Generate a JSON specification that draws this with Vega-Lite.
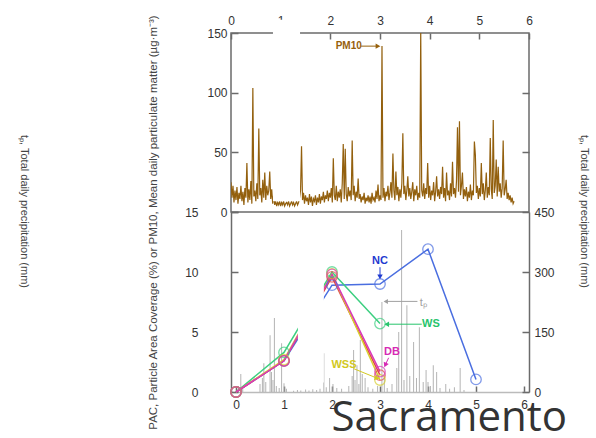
{
  "$schema": "https://vega.github.io/schema/vega-lite/v6.json",
  "background": "white",
  "padding": {"left": 17, "top": 13, "right": 5, "bottom": 5},
  "spacing": 0,
  "bounds": "flush",
  "config": {
    "view": {"stroke": null},
    "axis": {"labelFont": "Liberation Sans", "labelFontSize": 12, "labelColor": "#333333", "titleFont": "Liberation Sans", "titleFontSize": 11, "titleFontWeight": "normal", "titleColor": "#444444", "domainColor": "#6b6b6b", "domainWidth": 1.5, "tickColor": "#6b6b6b", "tickWidth": 1.5, "grid": false, "labelFlush": false, "labelOverlap": false},
    "text": {"font": "Liberation Sans"}
  },
  "title": {"text": "Sacramento", "orient": "bottom", "anchor": "end", "frame": "group", "font": "Open Sans", "fontSize": 42, "fontWeight": "normal", "color": "#333333", "offset": -31, "dx": 38},
  "datasets": {
    "pm": [
      {"t":0.00,"v":25},{"t":0.02,"v":12},{"t":0.04,"v":22},{"t":0.06,"v":8},{"t":0.08,"v":18},{"t":0.10,"v":10},{"t":0.12,"v":21},{"t":0.14,"v":7},{"t":0.16,"v":16},{"t":0.18,"v":11},
      {"t":0.20,"v":22},{"t":0.22,"v":9},{"t":0.24,"v":17},{"t":0.26,"v":6},{"t":0.28,"v":20},{"t":0.30,"v":12},{"t":0.32,"v":41},{"t":0.34,"v":8},{"t":0.36,"v":19},{"t":0.38,"v":10},
      {"t":0.40,"v":26},{"t":0.42,"v":7},{"t":0.44,"v":104},{"t":0.46,"v":13},{"t":0.48,"v":18},{"t":0.50,"v":9},{"t":0.52,"v":24},{"t":0.54,"v":11},{"t":0.56,"v":70},{"t":0.58,"v":14},
      {"t":0.60,"v":20},{"t":0.62,"v":8},{"t":0.64,"v":27},{"t":0.66,"v":12},{"t":0.68,"v":33},{"t":0.70,"v":10},{"t":0.72,"v":22},{"t":0.74,"v":14},{"t":0.76,"v":18},{"t":0.78,"v":34},
      {"t":0.80,"v":11},{"t":0.82,"v":19},{"t":0.84,"v":7},{"t":0.86,"v":15},{"t":0.88,"v":6},{"t":0.90,"v":9},{"t":0.92,"v":5},{"t":0.94,"v":8},{"t":0.96,"v":6},{"t":0.98,"v":9},
      {"t":1.00,"v":5},{"t":1.02,"v":8},{"t":1.04,"v":6},{"t":1.06,"v":9},{"t":1.08,"v":5},{"t":1.10,"v":7},{"t":1.12,"v":8},{"t":1.14,"v":6},{"t":1.16,"v":9},{"t":1.18,"v":5},
      {"t":1.20,"v":7},{"t":1.22,"v":9},{"t":1.24,"v":6},{"t":1.26,"v":8},{"t":1.28,"v":5},{"t":1.30,"v":7},{"t":1.32,"v":9},{"t":1.34,"v":6},{"t":1.36,"v":8},{"t":1.38,"v":12},
      {"t":1.40,"v":18},{"t":1.42,"v":55},{"t":1.44,"v":10},{"t":1.46,"v":16},{"t":1.48,"v":7},{"t":1.50,"v":14},{"t":1.52,"v":9},{"t":1.54,"v":12},{"t":1.56,"v":6},{"t":1.58,"v":15},
      {"t":1.60,"v":8},{"t":1.62,"v":13},{"t":1.64,"v":5},{"t":1.66,"v":11},{"t":1.68,"v":9},{"t":1.70,"v":14},{"t":1.72,"v":6},{"t":1.74,"v":12},{"t":1.76,"v":8},{"t":1.78,"v":15},
      {"t":1.80,"v":7},{"t":1.82,"v":13},{"t":1.84,"v":10},{"t":1.86,"v":17},{"t":1.88,"v":8},{"t":1.90,"v":14},{"t":1.92,"v":11},{"t":1.94,"v":18},{"t":1.96,"v":9},{"t":1.98,"v":16},
      {"t":2.00,"v":12},{"t":2.02,"v":20},{"t":2.04,"v":8},{"t":2.06,"v":45},{"t":2.08,"v":14},{"t":2.10,"v":10},{"t":2.12,"v":22},{"t":2.14,"v":9},{"t":2.16,"v":17},{"t":2.18,"v":12},
      {"t":2.20,"v":19},{"t":2.22,"v":8},{"t":2.24,"v":24},{"t":2.26,"v":57},{"t":2.28,"v":11},{"t":2.30,"v":53},{"t":2.32,"v":15},{"t":2.34,"v":9},{"t":2.36,"v":21},{"t":2.38,"v":13},
      {"t":2.40,"v":18},{"t":2.42,"v":10},{"t":2.44,"v":60},{"t":2.46,"v":14},{"t":2.48,"v":22},{"t":2.50,"v":9},{"t":2.52,"v":17},{"t":2.54,"v":12},{"t":2.56,"v":28},{"t":2.58,"v":11},
      {"t":2.60,"v":15},{"t":2.62,"v":8},{"t":2.64,"v":13},{"t":2.66,"v":10},{"t":2.68,"v":16},{"t":2.70,"v":7},{"t":2.72,"v":12},{"t":2.74,"v":9},{"t":2.76,"v":14},{"t":2.78,"v":8},
      {"t":2.80,"v":13},{"t":2.82,"v":7},{"t":2.84,"v":16},{"t":2.86,"v":10},{"t":2.88,"v":12},{"t":2.90,"v":8},{"t":2.92,"v":18},{"t":2.94,"v":11},{"t":2.96,"v":23},{"t":2.98,"v":9},
      {"t":3.00,"v":14},{"t":3.02,"v":10},{"t":3.04,"v":139},{"t":3.06,"v":12},{"t":3.08,"v":20},{"t":3.10,"v":9},{"t":3.12,"v":17},{"t":3.14,"v":13},{"t":3.16,"v":22},{"t":3.18,"v":10},
      {"t":3.20,"v":16},{"t":3.22,"v":25},{"t":3.24,"v":12},{"t":3.26,"v":49},{"t":3.28,"v":18},{"t":3.30,"v":10},{"t":3.32,"v":34},{"t":3.34,"v":14},{"t":3.36,"v":21},{"t":3.38,"v":9},
      {"t":3.40,"v":19},{"t":3.42,"v":12},{"t":3.44,"v":24},{"t":3.46,"v":66},{"t":3.48,"v":15},{"t":3.50,"v":22},{"t":3.52,"v":10},{"t":3.54,"v":18},{"t":3.56,"v":30},{"t":3.58,"v":13},
      {"t":3.60,"v":20},{"t":3.62,"v":11},{"t":3.64,"v":17},{"t":3.66,"v":25},{"t":3.68,"v":9},{"t":3.70,"v":19},{"t":3.72,"v":14},{"t":3.74,"v":22},{"t":3.76,"v":10},{"t":3.78,"v":16},
      {"t":3.80,"v":12},{"t":3.82,"v":152},{"t":3.84,"v":18},{"t":3.86,"v":13},{"t":3.88,"v":24},{"t":3.90,"v":11},{"t":3.92,"v":20},{"t":3.94,"v":15},{"t":3.96,"v":41},{"t":3.98,"v":12},
      {"t":4.00,"v":22},{"t":4.02,"v":10},{"t":4.04,"v":18},{"t":4.06,"v":14},{"t":4.08,"v":25},{"t":4.10,"v":9},{"t":4.12,"v":17},{"t":4.14,"v":30},{"t":4.16,"v":13},{"t":4.18,"v":19},
      {"t":4.20,"v":11},{"t":4.22,"v":21},{"t":4.24,"v":15},{"t":4.26,"v":38},{"t":4.28,"v":12},{"t":4.30,"v":20},{"t":4.32,"v":9},{"t":4.34,"v":33},{"t":4.36,"v":14},{"t":4.38,"v":18},
      {"t":4.40,"v":10},{"t":4.42,"v":24},{"t":4.44,"v":13},{"t":4.46,"v":42},{"t":4.48,"v":15},{"t":4.50,"v":20},{"t":4.52,"v":12},{"t":4.54,"v":26},{"t":4.56,"v":71},{"t":4.58,"v":17},
      {"t":4.60,"v":76},{"t":4.62,"v":14},{"t":4.64,"v":22},{"t":4.66,"v":33},{"t":4.68,"v":11},{"t":4.70,"v":19},{"t":4.72,"v":13},{"t":4.74,"v":21},{"t":4.76,"v":9},{"t":4.78,"v":17},
      {"t":4.80,"v":12},{"t":4.82,"v":23},{"t":4.84,"v":10},{"t":4.86,"v":18},{"t":4.88,"v":14},{"t":4.90,"v":59},{"t":4.92,"v":48},{"t":4.94,"v":16},{"t":4.96,"v":22},{"t":4.98,"v":11},
      {"t":5.00,"v":20},{"t":5.02,"v":13},{"t":5.04,"v":41},{"t":5.06,"v":15},{"t":5.08,"v":24},{"t":5.10,"v":10},{"t":5.12,"v":18},{"t":5.14,"v":33},{"t":5.16,"v":12},{"t":5.18,"v":21},
      {"t":5.20,"v":14},{"t":5.22,"v":62},{"t":5.24,"v":19},{"t":5.26,"v":11},{"t":5.28,"v":77},{"t":5.30,"v":16},{"t":5.32,"v":22},{"t":5.34,"v":44},{"t":5.36,"v":13},{"t":5.38,"v":38},
      {"t":5.40,"v":17},{"t":5.42,"v":24},{"t":5.44,"v":12},{"t":5.46,"v":20},{"t":5.48,"v":60},{"t":5.50,"v":14},{"t":5.52,"v":19},{"t":5.54,"v":27},{"t":5.56,"v":11},{"t":5.58,"v":16},
      {"t":5.60,"v":10},{"t":5.62,"v":14},{"t":5.64,"v":8},{"t":5.66,"v":12},{"t":5.68,"v":7},{"t":5.70,"v":9}
    ],
    "precip": [
      {"t":0.05,"p":15},{"t":0.10,"p":45},{"t":0.14,"p":8},{"t":0.50,"p":20},{"t":0.55,"p":35},{"t":0.58,"p":72},{"t":0.62,"p":25},{"t":0.71,"p":142},{"t":0.74,"p":50},{"t":0.77,"p":30},
      {"t":0.80,"p":185},{"t":0.84,"p":15},{"t":0.90,"p":10},{"t":0.95,"p":122},{"t":1.00,"p":22},{"t":1.05,"p":8},{"t":1.20,"p":3},{"t":1.28,"p":5},{"t":1.35,"p":4},{"t":1.45,"p":6},
      {"t":1.52,"p":4},{"t":1.60,"p":7},{"t":1.68,"p":5},{"t":1.75,"p":8},{"t":1.83,"p":97},{"t":1.88,"p":12},{"t":1.95,"p":35},{"t":2.02,"p":20},{"t":2.10,"p":10},{"t":2.20,"p":8},
      {"t":2.35,"p":15},{"t":2.42,"p":40},{"t":2.45,"p":105},{"t":2.48,"p":30},{"t":2.52,"p":67},{"t":2.56,"p":20},{"t":2.59,"p":130},{"t":2.63,"p":45},{"t":2.69,"p":35},{"t":2.75,"p":12},
      {"t":2.85,"p":8},{"t":2.95,"p":15},{"t":3.04,"p":225},{"t":3.09,"p":42},{"t":3.15,"p":10},{"t":3.25,"p":20},{"t":3.35,"p":60},{"t":3.39,"p":150},{"t":3.45,"p":405},{"t":3.50,"p":30},
      {"t":3.56,"p":217},{"t":3.62,"p":40},{"t":3.70,"p":125},{"t":3.76,"p":35},{"t":3.82,"p":162},{"t":3.90,"p":25},{"t":3.96,"p":55},{"t":4.00,"p":25},{"t":4.05,"p":15},{"t":4.11,"p":67},
      {"t":4.18,"p":50},{"t":4.25,"p":10},{"t":4.37,"p":20},{"t":4.45,"p":8},{"t":4.55,"p":12},{"t":4.67,"p":60},{"t":4.75,"p":5}
    ],
    "pac": [
      {"s":"NC","t":0,"v":0},{"s":"NC","t":1,"v":2.6},{"s":"NC","t":2,"v":8.9},{"s":"NC","t":3,"v":9.0},{"s":"NC","t":4,"v":11.9},{"s":"NC","t":5,"v":1.05},
      {"s":"WS","t":0,"v":0},{"s":"WS","t":1,"v":3.3},{"s":"WS","t":2,"v":10.0},{"s":"WS","t":3,"v":5.7},
      {"s":"Red","t":0,"v":0},{"s":"Red","t":1,"v":2.6},{"s":"Red","t":2,"v":9.6},{"s":"Red","t":3,"v":1.4},
      {"s":"WSS","t":0,"v":0},{"s":"WSS","t":1,"v":2.7},{"s":"WSS","t":2,"v":9.85},{"s":"WSS","t":3,"v":1.0},
      {"s":"DB","t":0,"v":0},{"s":"DB","t":1,"v":2.6},{"s":"DB","t":2,"v":9.8},{"s":"DB","t":3,"v":1.7}
    ],
    "labels": [
      {"s":"NC","t":3.0,"v":10.9,"label":"NC"},
      {"s":"WS","t":4.06,"v":5.65,"label":"WS"},
      {"s":"DB","t":3.25,"v":3.3,"label":"DB"},
      {"s":"WSS","t":2.25,"v":2.25,"label":"WSS"}
    ],
    "arrows": [
      {"s":"NC","t":3.0,"v":10.4,"t2":3.0,"v2":9.6},
      {"s":"WS","t":3.87,"v":5.65,"t2":3.14,"v2":5.65},
      {"s":"DB","t":3.18,"v":2.85,"t2":3.11,"v2":2.25},
      {"s":"WSS","t":2.45,"v":1.95,"t2":2.94,"v2":1.15},
      {"s":"tp","t":3.78,"v":7.55,"t2":3.12,"v2":7.55}
    ]
  },
  "vconcat": [
    {
      "width": 298,
      "height": 179,
      "view": {"stroke": "#6b6b6b", "strokeWidth": 1.5},
      "layer": [
        {
          "layer": [
            {
              "data": {"name": "pm"},
              "mark": {"type": "line", "color": "#93600e", "strokeWidth": 1.2, "clip": true},
              "encoding": {
                "x": {"field": "t", "type": "quantitative", "scale": {"domain": [0, 6], "nice": false}, "axis": {"orient": "top", "values": [0,1,2,3,4,5,6], "tickSize": -6, "labelPadding": 12, "domain": false, "title": null}},
                "y": {"field": "v", "type": "quantitative", "scale": {"domain": [0, 150], "nice": false}, "axis": {"values": [0,50,100,150], "tickSize": -7, "labelPadding": 11, "domain": false, "title": null}}
              }
            },
            {
              "data": {"values": [{"a": 0.845, "b": 1.39, "lo": 9, "hi": 161}]},
              "mark": {"type": "rect", "color": "white", "clip": false},
              "encoding": {
                "x": {"field": "a", "type": "quantitative"},
                "x2": {"field": "b"},
                "y": {"field": "lo", "type": "quantitative"},
                "y2": {"field": "hi"}
              }
            },
            {
              "data": {"values": [{"t": 2.37, "v": 139, "label": "PM10", "t1": 2.62, "t2": 2.96}]},
              "layer": [
                {"mark": {"type": "text", "fontWeight": "bold", "fontSize": 10, "color": "#96600c"},
                 "encoding": {"x": {"field": "t", "type": "quantitative"}, "y": {"field": "v", "type": "quantitative"}, "text": {"field": "label"}}},
                {"mark": {"type": "rule", "color": "#96600c", "strokeWidth": 1},
                 "encoding": {"x": {"field": "t1", "type": "quantitative"}, "x2": {"field": "t2"}, "y": {"field": "v", "type": "quantitative"}}},
                {"mark": {"type": "point", "shape": "triangle-right", "filled": true, "size": 30, "color": "#96600c", "opacity": 1},
                 "encoding": {"x": {"field": "t2", "type": "quantitative"}, "y": {"field": "v", "type": "quantitative"}}}
              ]
            }
          ]
        },
        {
          "data": {"values": [{"v": 50}, {"v": 100}]},
          "mark": {"type": "rule", "opacity": 0},
          "encoding": {
            "y": {"field": "v", "type": "quantitative", "scale": {"domain": [0, 150], "nice": false}, "axis": {"orient": "right", "values": [50, 100], "labels": false, "tickSize": -7, "domain": false, "title": null}}
          }
        }
      ],
      "resolve": {"axis": {"y": "independent"}}
    },
    {
      "width": 298,
      "height": 180,
      "layer": [
        {
          "data": {"name": "precip"},
          "mark": {"type": "bar", "color": "#b4b4b4", "width": 1},
          "encoding": {
            "x": {"field": "t", "type": "quantitative", "scale": {"domain": [0, 6], "nice": false}, "axis": {"orient": "bottom", "values": [0,1,2,3,4,5,6], "tickSize": -6, "labelPadding": 13, "domainColor": "#bbbbbb", "title": null}},
            "y": {"field": "p", "type": "quantitative", "scale": {"domain": [0, 450], "nice": false}, "axis": {"orient": "right", "values": [0,150,300,450], "tickSize": -7, "labelPadding": 12, "title": "tₚ, Total daily precipitation (mm)", "titleX": 54, "titleY": -1, "titleAngle": 90, "titleAlign": "center", "titleBaseline": "middle"}}
          }
        },
        {
          "layer": [
            {
              "data": {"name": "pac"},
              "mark": {"type": "line", "strokeWidth": 1.5},
              "encoding": {
                "x": {"field": "t", "type": "quantitative"},
                "y": {"field": "v", "type": "quantitative", "scale": {"domain": [0, 15], "nice": false}, "axis": {"orient": "left", "values": [0,5,10,15], "tickSize": -7, "labelPadding": 40, "title": "PAC, Particle Area Coverage (%) or PM10, Mean daily particulate matter (µg·m⁻³)", "titleFontSize": 11.5, "titleX": -78, "titleY": 10, "titleAngle": 270, "titleAlign": "center", "titleBaseline": "middle"}},
                "color": {"field": "s", "type": "nominal", "scale": {"domain": ["NC","WS","Red","WSS","DB","tp"], "range": ["#4a6ee0","#3ccf80","#e04848","#d8d030","#d838b8","#9a9a9a"]}, "legend": null}
              }
            },
            {
              "data": {"name": "pac"},
              "mark": {"type": "point", "filled": false, "size": 110, "strokeWidth": 1.3},
              "encoding": {
                "x": {"field": "t", "type": "quantitative"},
                "y": {"field": "v", "type": "quantitative"},
                "color": {"field": "s", "type": "nominal", "scale": {"domain": ["NC","WS","Red","WSS","DB","tp"], "range": ["#4a6ee0","#3ccf80","#e04848","#d8d030","#d838b8","#9a9a9a"]}, "legend": null}
              }
            },
            {
              "data": {"values": [{"a": 1.29, "b": 1.83, "lo": 0.8, "hi": 14.8}]},
              "mark": {"type": "rect", "color": "white", "clip": false},
              "encoding": {
                "x": {"field": "a", "type": "quantitative"},
                "x2": {"field": "b"},
                "y": {"field": "lo", "type": "quantitative"},
                "y2": {"field": "hi"}
              }
            },
            {
              "data": {"name": "arrows"},
              "mark": {"type": "rule", "strokeWidth": 1},
              "encoding": {
                "x": {"field": "t", "type": "quantitative"},
                "x2": {"field": "t2"},
                "y": {"field": "v", "type": "quantitative"},
                "y2": {"field": "v2"},
                "color": {"field": "s", "type": "nominal", "scale": {"domain": ["NC","WS","DB","WSS","tp"], "range": ["#1f3ad0","#27c46c","#d62ab4","#d2c822","#a0a0a0"]}, "legend": null}
              }
            },
            {
              "data": {"values": [{"t": 3.0, "v": 9.6}]},
              "mark": {"type": "point", "shape": "triangle-down", "filled": true, "size": 30, "color": "#1f3ad0", "opacity": 1},
              "encoding": {"x": {"field": "t", "type": "quantitative"}, "y": {"field": "v", "type": "quantitative"}}
            },
            {
              "data": {"values": [{"t": 3.14, "v": 5.65}]},
              "mark": {"type": "point", "shape": "triangle-left", "filled": true, "size": 30, "color": "#27c46c", "opacity": 1},
              "encoding": {"x": {"field": "t", "type": "quantitative"}, "y": {"field": "v", "type": "quantitative"}}
            },
            {
              "data": {"values": [{"t": 3.11, "v": 2.25}]},
              "mark": {"type": "point", "shape": "triangle-up", "angle": 204, "filled": true, "size": 30, "color": "#d62ab4", "opacity": 1},
              "encoding": {"x": {"field": "t", "type": "quantitative"}, "y": {"field": "v", "type": "quantitative"}}
            },
            {
              "data": {"values": [{"t": 2.94, "v": 1.15}]},
              "mark": {"type": "point", "shape": "triangle-up", "angle": 111, "filled": true, "size": 30, "color": "#d2c822", "opacity": 1},
              "encoding": {"x": {"field": "t", "type": "quantitative"}, "y": {"field": "v", "type": "quantitative"}}
            },
            {
              "data": {"values": [{"t": 3.12, "v": 7.55}]},
              "mark": {"type": "point", "shape": "triangle-left", "filled": true, "size": 25, "color": "#a0a0a0", "opacity": 1},
              "encoding": {"x": {"field": "t", "type": "quantitative"}, "y": {"field": "v", "type": "quantitative"}}
            },
            {
              "data": {"name": "labels"},
              "mark": {"type": "text", "fontWeight": "bold", "fontSize": 11},
              "encoding": {
                "x": {"field": "t", "type": "quantitative"},
                "y": {"field": "v", "type": "quantitative"},
                "text": {"field": "label"},
                "color": {"field": "s", "type": "nominal", "scale": {"domain": ["NC","WS","DB","WSS"], "range": ["#1f3ad0","#27c46c","#d62ab4","#d2c822"]}, "legend": null}
              }
            },
            {
              "data": {"values": [{"t": 3.9, "v": 7.4, "label": "tₚ"}]},
              "mark": {"type": "text", "fontSize": 11, "color": "#a0a0a0"},
              "encoding": {"x": {"field": "t", "type": "quantitative"}, "y": {"field": "v", "type": "quantitative"}, "text": {"field": "label"}}
            }
          ],
          "resolve": {"scale": {"color": "independent"}}
        },
        {
          "data": {"values": [{"z": 0}]},
          "mark": {"type": "rule", "opacity": 0},
          "encoding": {
            "y": {"field": "z", "type": "quantitative", "scale": {"domain": [0, 1]}, "axis": {"orient": "left", "labels": false, "ticks": false, "domain": false, "title": "tₚ, Total daily precipitation (mm)", "titleX": -208, "titleY": -1, "titleAngle": 90, "titleAlign": "center", "titleBaseline": "middle"}}
          }
        }
      ],
      "resolve": {"scale": {"y": "independent"}}
    }
  ]
}
